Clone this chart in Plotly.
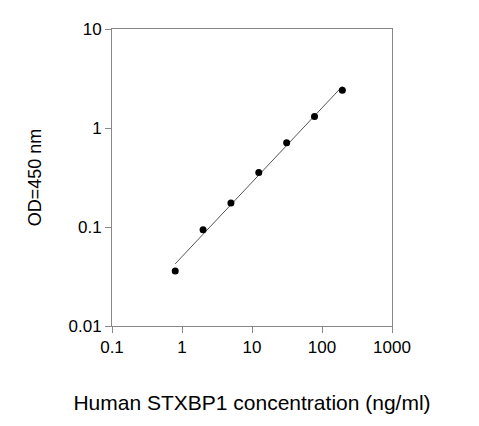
import numpy as np
import plotly.graph_objects as go

conc = [0.8, 2, 5, 12.5, 31.25, 78.125, 195.3]
od = [0.036, 0.094, 0.175, 0.355, 0.71, 1.31, 2.4]
x_ticks = [0.1, 1, 10, 100, 1000]
x_tick_labels = ["0.1", "1", "10", "100", "1000"]
y_ticks = [0.01, 0.1, 1, 10]
y_tick_labels = ["0.01", "0.1", "1", "10"]

# power-law trendline fitted in log space
b, a = np.polyfit(np.log10(conc), np.log10(od), 1)
xf = np.array([conc[0], conc[-1]])
yf = 10 ** (a + b * np.log10(xf))

fig = go.Figure()
fig.add_trace(go.Scatter(x=xf, y=yf, mode="lines", line=dict(color="#555", width=1), showlegend=False))
fig.add_trace(go.Scatter(x=conc, y=od, mode="markers", marker=dict(color="black", size=7), showlegend=False))

axis_common = dict(type="log", showgrid=False, zeroline=False, showline=True, linecolor="#888",
                   linewidth=1, ticks="outside", tickcolor="#888", ticklen=6, mirror=True,
                   tickfont=dict(family="Liberation Sans, Arial", size=17, color="black"))
fig.update_xaxes(range=[-1, 3], tickvals=x_ticks, ticktext=x_tick_labels,
                 title=dict(text="Human STXBP1 concentration (ng/ml)", font=dict(family="Liberation Sans, Arial", size=21, color="black"), standoff=38),
                 **axis_common)
fig.update_yaxes(range=[-2, 1], tickvals=y_ticks, ticktext=y_tick_labels,
                 title=dict(text="OD=450 nm", font=dict(family="Liberation Sans, Arial", size=18, color="black"), standoff=22),
                 **axis_common)
fig.update_layout(width=479, height=426, margin=dict(l=104, r=95, t=16, b=108),
                  plot_bgcolor="white", paper_bgcolor="white")
fig.write_html("out.html")
